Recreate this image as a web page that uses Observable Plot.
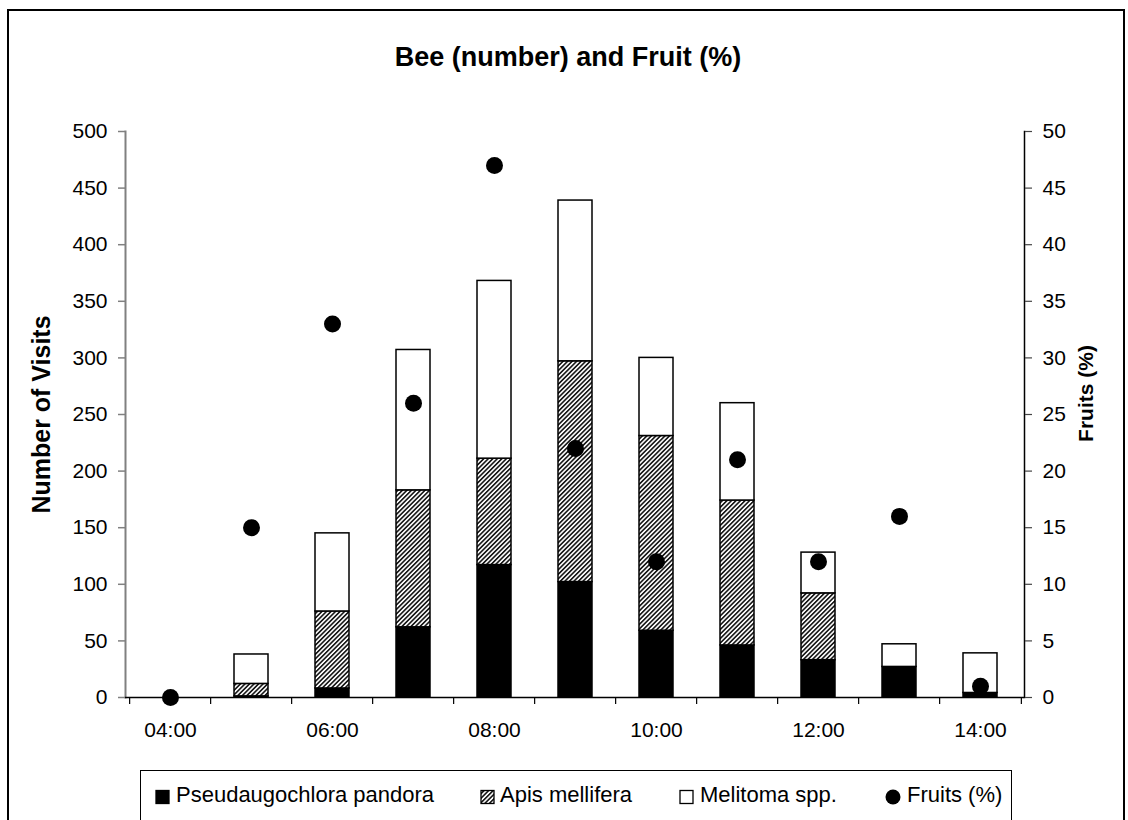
<!DOCTYPE html>
<html>
<head>
<meta charset="utf-8">
<script src="https://cdn.jsdelivr.net/npm/d3@7"></script>
<script src="https://cdn.jsdelivr.net/npm/@observablehq/plot@0.6"></script>
<style>
  html, body { margin: 0; padding: 0; background: #fff; }
  #page { position: relative; width: 1128px; height: 820px; overflow: hidden; font-family: "Liberation Sans", Arial, sans-serif; color: #000; }
  #border { position: absolute; left: 7px; top: 9px; width: 1118px; height: 840px; border: 2px solid #000; box-sizing: border-box; }
  #title { position: absolute; left: 0; top: 42px; width: 1136px; height: 30px; line-height: 30px; text-align: center; font-size: 27px; font-weight: bold; }
  #chart { position: absolute; left: 0; top: 0; }
  #legendbox { position: absolute; left: 140px; top: 770px; width: 872px; height: 80px; border: 1.5px solid #000; box-sizing: border-box; background: #fff; }
  .li { position: absolute; top: 781px; height: 28px; line-height: 28px; font-size: 22px; white-space: nowrap; }
  .sw { position: absolute; top: 789px; }
</style>
</head>
<body>
<div id="page">
  <div id="border"></div>
  <div id="chart"></div>
  <div id="title">Bee (number) and Fruit (%)</div>
  <div id="legendbox"></div>
  <div id="legend"></div>
</div>
<script>
// ---- data ----
const times = ["04:00","05:00","06:00","07:00","08:00","09:00","10:00","11:00","12:00","13:00","14:00"];
const species = ["Pseudaugochlora pandora", "Apis mellifera", "Melitoma spp."];
const pseudo   = [0, 1,  8,  62, 117, 102,  59,  46, 33, 27,  4];
const apis     = [0, 11, 68, 121, 94, 195, 172, 128, 59,  0,  0];
const melitoma = [0, 26, 69, 124, 157, 142, 69,  86, 36, 20, 35];
const fruits   = [0, 15, 33, 26, 47, 22, 12, 21, 12, 16, 1];
const visitTicks = [0, 50, 100, 150, 200, 250, 300, 350, 400, 450, 500];
const fruitTicks = [0, 5, 10, 15, 20, 25, 30, 35, 40, 45, 50];
const xLabels = ["04:00","06:00","08:00","10:00","12:00","14:00"];
const legendLabels = ["Pseudaugochlora pandora", "Apis mellifera", "Melitoma spp.", "Fruits (%)"];

// ---- tables built from the arrays ----
const seriesValues = [pseudo, apis, melitoma];
const visits = species.flatMap((s, k) => times.map((t, i) => ({time: t, species: s, count: seriesValues[k][i]})));
const fruitRows = times.map((t, i) => ({time: t, fruit: fruits[i]}));

// ---- layout ----
const W = 1128, H = 760;
const mL = 125, mR = 104, mT = 131, mB = 63;
const step = (W - mL - mR) / times.length;
const fruitToVisits = visitTicks[visitTicks.length - 1] / fruitTicks[fruitTicks.length - 1];

const chart = Plot.plot({
  width: W, height: H,
  marginLeft: mL, marginRight: mR, marginTop: mT, marginBottom: mB,
  style: {fontFamily: "'Liberation Sans', Arial, sans-serif", fontSize: "21px", color: "#000", background: "transparent", overflow: "visible"},
  x: {type: "band", domain: times, paddingInner: 0.585, paddingOuter: 0.2925},
  y: {domain: [0, 500]},
  color: {domain: species, range: ["#000", "url(#hatch)", "#fff"]},
  marks: [
    Plot.barY(visits, {filter: d => d.count > 0, x: "time", y: "count", fill: "species", stroke: "#000", strokeWidth: 1.5}),
    Plot.frame({anchor: "left", stroke: "#808080", strokeWidth: 2}),
    Plot.frame({anchor: "right", stroke: "#000", strokeWidth: 1.5}),
    Plot.ruleY([0], {stroke: "#000", strokeWidth: 1.5}),
    Plot.axisY(visitTicks, {anchor: "left", tickSize: 7, tickPadding: 11, stroke: "#808080", strokeWidth: 1.5, label: null}),
    Plot.axisY(fruitTicks.map(v => v * fruitToVisits), {anchor: "right", tickSize: 7, tickPadding: 11, stroke: "#444", strokeWidth: 1.2, tickFormat: d => String(d / fruitToVisits), label: null}),
    Plot.axisX(times, {anchor: "bottom", tickSize: 7, dx: -step / 2, stroke: "#000", strokeWidth: 1.2, tickFormat: () => "", label: null}),
    Plot.axisX([times[times.length - 1]], {anchor: "bottom", tickSize: 7, dx: step / 2, stroke: "#000", strokeWidth: 1.2, tickFormat: () => "", label: null}),
    Plot.axisX(xLabels, {anchor: "bottom", tickSize: 0, tickPadding: 25, label: null}),
    Plot.text(["Number of Visits"], {frameAnchor: "left", textAnchor: "middle", dx: -84, rotate: -90, fontWeight: "bold", fontSize: 25}),
    Plot.text(["Fruits (%)"], {frameAnchor: "right", textAnchor: "middle", dx: 62, dy: -21, rotate: -90, fontWeight: "bold", fontSize: 21}),
    Plot.dot(fruitRows, {x: "time", y: d => d.fruit * fruitToVisits, r: 8.5, fill: "#000", stroke: "none"})
  ]
});

// hatch pattern for Apis mellifera
const ns = "http://www.w3.org/2000/svg";
function addHatch(svg, id) {
  const defs = document.createElementNS(ns, "defs");
  defs.innerHTML = `<pattern id="${id}" patternUnits="userSpaceOnUse" width="3.2" height="3.2" patternTransform="rotate(45)">
      <rect width="3.2" height="3.2" fill="#fff"/>
      <line x1="0.8" y1="0" x2="0.8" y2="3.2" stroke="#1a1a1a" stroke-width="1.7"/>
    </pattern>`;
  svg.insertBefore(defs, svg.firstChild);
}
addHatch(chart, "hatch");
document.getElementById("chart").appendChild(chart);

// legend
const legend = document.getElementById("legend");
const legendPos = [[155, 176], [480, 500], [679, 700], [885, 907]];
const swatchFill = ["#000", "url(#hatch)", "#fff"];
legendLabels.forEach((lab, i) => {
  const [sx, tx] = legendPos[i];
  const sw = document.createElementNS(ns, "svg");
  sw.setAttribute("width", 16); sw.setAttribute("height", 16);
  sw.setAttribute("class", "sw");
  sw.style.left = sx + "px";
  if (i < 3) {
    const r = document.createElementNS(ns, "rect");
    r.setAttribute("x", 1); r.setAttribute("y", 1.5); r.setAttribute("width", 13); r.setAttribute("height", 13);
    r.setAttribute("fill", swatchFill[i]); r.setAttribute("stroke", "#000"); r.setAttribute("stroke-width", 1.3);
    sw.appendChild(r);
  } else {
    const c = document.createElementNS(ns, "circle");
    c.setAttribute("cx", 8); c.setAttribute("cy", 8); c.setAttribute("r", 7.5); c.setAttribute("fill", "#000");
    sw.appendChild(c);
  }
  legend.appendChild(sw);
  const t = document.createElement("div");
  t.className = "li"; t.style.left = tx + "px"; t.textContent = lab;
  legend.appendChild(t);
});
</script>
</body>
</html>
